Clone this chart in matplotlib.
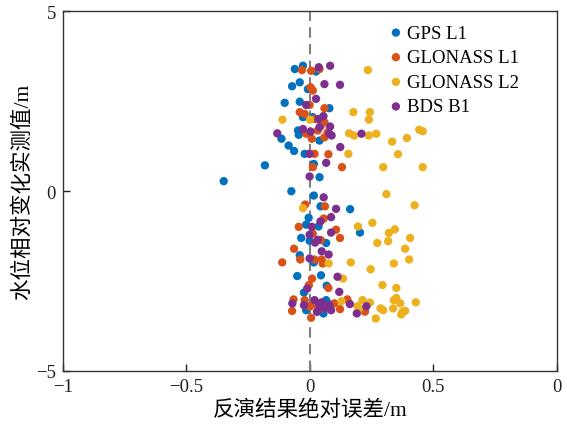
import matplotlib
matplotlib.use("Agg")
import matplotlib.pyplot as plt

plt.rcParams['font.family'] = ['Liberation Serif', 'Noto Sans CJK SC', 'DejaVu Sans']
plt.rcParams['axes.unicode_minus'] = True

# GPS L1
gps_x = [-0.028, -0.061, 0.025, -0.041, -0.072, -0.008, -0.102, -0.041, 0.079, -0.028,
         0.012, -0.048, -0.045, -0.115, 0.039, -0.086, -0.064, -0.021, -0.182, 0.016,
         0.039, -0.349, -0.075, 0.016, 0.043, 0.163, -0.005, -0.015, 0.035, -0.035,
         -0.001, 0.066, 0.203, -0.041, 0.016, -0.051, 0.045, 0.068, -0.024, -0.015,
         0.055, 0.066, 0.021, -0.010, 0.080, 0.030]
gps_y = [3.49, 3.40, 3.33, 3.03, 2.92, 2.84, 2.46, 2.49, 2.31, 2.06,
         2.06, 1.69, 1.57, 1.46, 1.41, 1.27, 1.12, 1.04, 0.72, 0.76,
         0.39, 0.28, 0.00, -0.12, -0.42, -0.50, -0.74, -0.93, -0.98, -1.30,
         -1.38, -1.44, -1.15, -1.78, -1.98, -2.36, -2.34, -2.63, -2.82, -3.31,
         -3.40, -3.03, -3.12, -3.20, -3.15, -3.35]

# GLONASS L1
gl1_x = [-0.032, 0.005, 0.039, 0.003, 0.012, -0.001, 0.059, -0.041, -0.021, 0.019,
         0.059, -0.015, 0.032, 0.059, 0.072, 0.019, 0.075, 0.130, 0.012, 0.008,
         0.045, -0.019, 0.061, -0.045, 0.056, 0.106, 0.122, 0.012, 0.045, -0.064,
         -0.039, -0.112, 0.019, 0.048, 0.052, 0.009, -0.004, 0.075, -0.066, -0.072,
         0.005, 0.012, 0.099, 0.122, 0.152, 0.223, -0.021, -0.001, 0.052]
gl1_y = [3.37, 3.35, 3.40, 2.89, 2.80, 2.40, 2.31, 2.20, 2.15, 2.01,
         1.92, 1.60, 1.69, 1.50, 1.64, 1.04, 1.03, 0.67, 0.67, 1.46,
         1.83, -0.37, -0.42, -0.99, -0.76, -1.07, -1.30, -1.18, -1.36, -1.60,
         -1.90, -1.98, -1.90, -1.90, -2.01, -2.43, -2.61, -2.69, -3.01, -3.33,
         -3.52, -3.15, -3.12, -3.28, -3.01, -3.35, -3.03, -3.21, -3.26]

# GLONASS L2
gl2_x = [0.235, -0.111, 0.001, 0.176, 0.239, 0.159, 0.179, 0.239, 0.269, 0.443,
         0.457, 0.333, 0.393, 0.156, 0.357, 0.297, 0.457, 0.243,
         0.310, 0.424, -0.028, 0.195, 0.253, 0.320, 0.344, 0.406, 0.273, 0.317,
         0.386, 0.402, 0.340, 0.246, 0.166, 0.076, 0.134, 0.294, 0.350, 0.128,
         0.213, 0.243, 0.193, 0.199, 0.286, 0.297, 0.340, 0.350, 0.366, 0.337,
         0.376, 0.386, 0.370, 0.429, 0.267]
gl2_y = [3.37, 1.99, 1.99, 2.20, 1.99, 1.61, 1.55, 1.55, 1.60, 1.71,
         1.67, 1.38, 1.48, 1.04, 1.03, 0.67, 0.67, 2.20,
         -0.08, -0.39, -0.47, -0.98, -0.88, -1.16, -1.06, -1.30, -1.44, -1.39,
         -1.60, -1.90, -2.01, -2.17, -1.98, -2.01, -2.43, -2.61, -2.69, -3.06,
         -3.03, -3.10, -3.20, -3.26, -3.26, -3.31, -3.03, -2.97, -3.12, -3.26,
         -3.35, -3.33, -3.43, -3.09, -3.54]

# BDS B1
bds_x = [0.036, 0.082, 0.059, 0.122, 0.025, -0.015, 0.055, 0.035, -0.028, -0.132,
         0.003, 0.039, 0.082, 0.088, 0.079, 0.123, 0.066, -0.001, -0.001, 0.209,
         0.056, 0.106, 0.086, 0.043, 0.008, 0.086, -0.001, 0.032, 0.021, 0.048,
         0.076, -0.001, 0.112, 0.119, -0.011, -0.071, -0.024, 0.019, 0.039, 0.059,
         0.086, 0.029, 0.162, 0.190, 0.229, 0.048, 0.079]
bds_y = [3.45, 3.49, 2.98, 2.96, 2.57, 2.40, 2.09, 2.01, 1.73, 1.61,
         1.66, 1.78, 1.80, 1.55, 1.60, 1.23, 0.79, 0.41, 1.04, 1.60,
         -0.17, -0.49, -0.72, -0.84, -0.99, -1.15, -1.21, -1.35, -1.43, -1.67,
         -1.76, -1.87, -2.38, -2.80, -2.71, -3.12, -3.17, -3.03, -3.17, -3.26,
         -3.31, -3.35, -3.14, -3.40, -3.20, -3.09, -3.17]

series = [
    ('GPS L1', gps_x, gps_y, '#0072BD'),
    ('GLONASS L1', gl1_x, gl1_y, '#D95319'),
    ('GLONASS L2', gl2_x, gl2_y, '#EDB120'),
    ('BDS B1', bds_x, bds_y, '#7E2F8E'),
]

fig = plt.figure(figsize=(5.67, 4.31), dpi=100)
ax = fig.add_axes([0.111, 0.137, 0.871, 0.834])

for name, xs, ys, c in series:
    ax.scatter(xs, ys, s=36, color=c, edgecolors='none', label=name, zorder=3)

ax.axvline(0, color='#808080', linestyle=(0, (5, 3)), linewidth=1.5, zorder=2)

ax.set_xlim(-1, 1)
ax.set_ylim(-5, 5)
ax.set_xticks([-1, -0.5, 0, 0.5, 1])
ax.set_xticklabels(['\u22121', '\u22120.5', '0', '0.5', '0'])
ax.set_yticks([-5, 0, 5])
ax.set_yticklabels(['\u22125', '0', '5'])
ax.tick_params(direction='in', length=5, width=1, labelsize=13.5, colors='#222222', pad=5)
for sp in ax.spines.values():
    sp.set_color('#333333')
    sp.set_linewidth(1.0)

ax.set_xlabel('反演结果绝对误差/m', fontsize=15.5, labelpad=3)
ax.set_ylabel('水位相对变化实测值/m', fontsize=15.5, labelpad=2)

ax.legend(loc='upper left', bbox_to_anchor=(0.64, 0.985), frameon=False,
          fontsize=13.5, handletextpad=0.1, labelspacing=0.4, borderaxespad=0,
          handlelength=1.0, markerscale=1.0)

fig.savefig('out.png', dpi=100)
